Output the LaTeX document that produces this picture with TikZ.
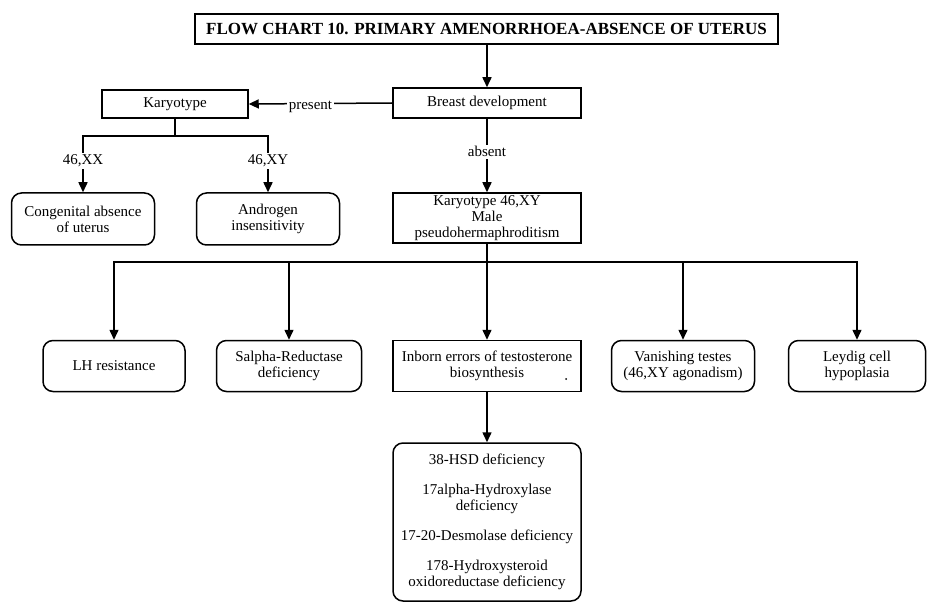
\documentclass[tikz,border=0pt]{standalone}
\usepackage{fontspec}
\setmainfont{Liberation Serif}
\usetikzlibrary{arrows.meta}

\begin{document}
\begin{tikzpicture}[x=1pt,y=-1pt,
  line width=1.5pt,
  txt/.style={font=\fontsize{15}{16}\selectfont},
  box/.style={draw, line width=1.5pt, align=center, txt, inner sep=1pt},
  rbox/.style={box, rounded corners=10pt},
  arr/.style={-{Triangle[length=10pt,width=9pt]}},
  lbl/.style={fill=white, inner sep=2pt, txt}
]
\useasboundingbox (0,0) rectangle (927,604);

% title
\node[box, minimum width=583pt, minimum height=30pt,
      font=\fontsize{17}{19}\selectfont\bfseries] (title) at (486.5,29)
  {FLOW CHART 10. PRIMARY AMENORRHOEA-ABSENCE OF UTERUS};

% first level
\node[box, minimum width=188pt, minimum height=30pt] (breast) at (487,103) {Breast development};
\node[box, minimum width=146pt, minimum height=28pt] (karyo) at (175,104) {Karyotype};

% karyotype outcomes
\node[rbox, minimum width=143pt, minimum height=52pt] (cong) at (83,219) {Congenital absence\\of uterus};
\node[rbox, minimum width=143pt, minimum height=52pt] (andr) at (268,219) {Androgen\\insensitivity};

% 46,XY branch
\node[box, minimum width=188pt, minimum height=50pt] (k46) at (487,218) {Karyotype 46,XY\\Male\\pseudohermaphroditism};

\node[rbox, minimum width=142pt, minimum height=51pt] (lh) at (114,366) {LH resistance};
\node[rbox, minimum width=145pt, minimum height=51pt] (red) at (289,366) {Salpha-Reductase\\deficiency};
\node[box, minimum width=188pt, minimum height=51pt] (inborn) at (487,366) {Inborn errors of testosterone\\biosynthesis};
\fill (566,379) circle (1pt);
\node[rbox, minimum width=143pt, minimum height=51pt] (van) at (683,366) {Vanishing testes\\(46,XY agonadism)};
\node[rbox, minimum width=137pt, minimum height=51pt] (ley) at (857,366) {Leydig cell\\hypoplasia};

% enzyme defects
\node[rbox, minimum width=188pt, minimum height=158pt] (enz) at (487,522)
  {38-HSD deficiency\\[14pt]17alpha-Hydroxylase\\deficiency\\[14pt]17-20-Desmolase deficiency\\[14pt]178-Hydroxysteroid\\oxidoreductase deficiency};

% junctions
\coordinate (kj) at (175,136);
\coordinate (hj) at (487,262);

% connectors
\draw[arr] (title.south -| breast) -- (breast);
\draw[arr] (breast.west) -- node[lbl, pos=0.57, yshift=-3pt] {present} (karyo.east);
\draw (karyo) -- (kj);
\draw[arr] (kj) -| node[lbl, pos=0.72] {46,XX} (cong);
\draw[arr] (kj) -| node[lbl, pos=0.72] {46,XY} (andr);
\draw[arr] (breast) -- node[lbl, pos=0.45] {absent} (k46);
\draw (k46) -- (hj);
\draw[arr] (hj) -| (lh);
\draw[arr] (hj) -| (red);
\draw[arr] (hj) -- (inborn);
\draw[arr] (hj) -| (van);
\draw[arr] (hj) -| (ley);
\draw[arr] (inborn) -- (enz);
\end{tikzpicture}
\end{document}
